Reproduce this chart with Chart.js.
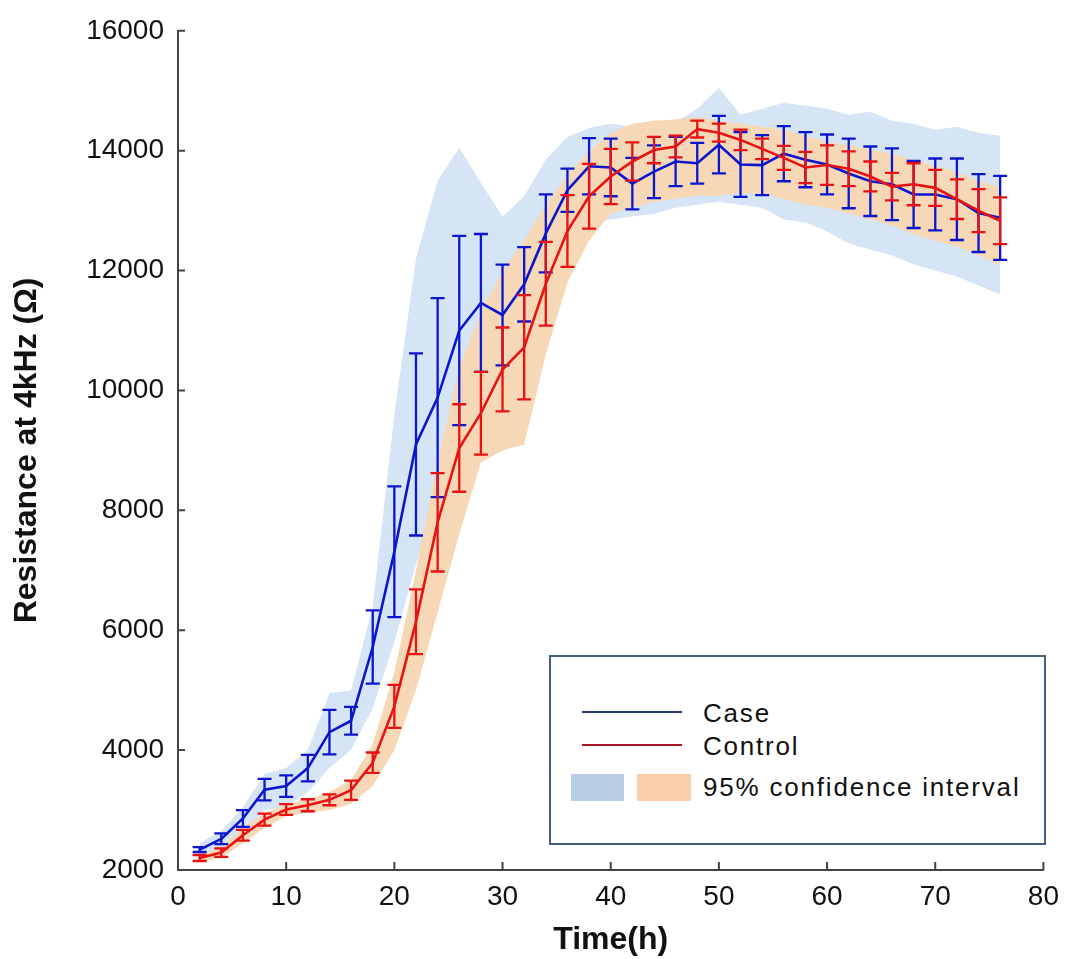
<!DOCTYPE html>
<html>
<head>
<meta charset="utf-8">
<script src="https://cdn.jsdelivr.net/npm/chart.js@4.4.1/dist/chart.umd.min.js"></script>
<style>
  html, body { margin: 0; padding: 0; background: #ffffff; }
  #wrap { position: relative; width: 1069px; height: 959px; }
  #legend {
    position: absolute; left: 549px; top: 655px; width: 493px; height: 186px;
    border: 2px solid #44607e; background: #ffffff; box-sizing: content-box;
    font-family: "Liberation Sans", Arial, sans-serif; font-size: 26px; color: #111;
    letter-spacing: 1.8px;
  }
  .lg-line { position: absolute; height: 2px; }
  .lg-sw { position: absolute; }
  .lg-txt { position: absolute; left: 152px; line-height: 30px; white-space: nowrap; }
</style>
</head>
<body>
<div id="wrap">
  <canvas id="c" width="1069" height="959"></canvas>
  <div id="legend">
    <div class="lg-line" style="left:31px;top:54px;width:100px;background:#263a72;"></div>
    <div class="lg-txt" style="top:41px;">Case</div>
    <div class="lg-line" style="left:31px;top:87px;width:100px;background:#a8142a;"></div>
    <div class="lg-txt" style="top:74px;">Control</div>
    <div class="lg-sw" style="left:20px;top:117px;width:53px;height:27px;background:#b9cde4;"></div>
    <div class="lg-sw" style="left:86px;top:117px;width:54px;height:27px;background:#fbcda8;"></div>
    <div class="lg-txt" style="top:115px;">95% confidence interval</div>
  </div>
</div>
<script>
// ---- data ----
const hours = [2,4,6,8,10,12,14,16,18,20,22,24,26,28,30,32,34,36,38,40,42,44,46,48,50,52,54,56,58,60,62,64,66,68,70,72,74,76];

const caseMean = [2340,2520,2860,3340,3400,3700,4300,4490,5720,7310,9100,9880,11000,11460,11260,11770,12620,13340,13740,13720,13450,13650,13820,13790,14100,13770,13760,13950,13850,13770,13620,13490,13440,13270,13270,13190,12960,12880];
const caseErr  = [40,90,140,180,180,220,370,230,610,1090,1520,1660,1580,1150,840,620,650,360,470,480,430,440,410,340,480,540,500,460,460,500,580,580,600,560,600,680,650,700];

const controlMean = [2200,2290,2580,2840,3010,3080,3170,3330,3790,4730,6140,7800,9040,9620,10350,10720,11780,12660,13240,13570,13820,14010,14070,14360,14300,14180,14030,13880,13720,13760,13700,13570,13400,13440,13380,13190,13000,12830];
const controlErr  = [50,70,90,100,90,100,90,160,170,360,540,820,730,690,700,870,700,600,540,460,320,220,180,140,150,170,170,200,260,330,290,250,230,350,300,330,360,390];

const caseBandHigh = [2450,2650,3050,3600,3700,4000,4950,5000,6400,9600,12200,13500,14050,13460,12900,13240,13850,14230,14380,14450,14400,14420,14480,14700,15050,14600,14700,14800,14750,14700,14600,14650,14500,14450,14350,14400,14300,14250];
const caseBandLow  = [2220,2350,2600,3000,3050,3300,3700,4000,4700,5800,7100,8200,9300,10000,10300,10900,11800,12500,12800,12850,12900,12950,13050,13100,13150,13100,13050,12850,12800,12650,12450,12350,12250,12100,12000,11900,11750,11600];

const controlBandHigh = [2260,2380,2700,2950,3100,3180,3300,3500,4100,5300,7000,8800,10400,11300,12000,12500,13100,13600,14000,14300,14450,14500,14520,14560,14500,14450,14400,14350,14250,14150,14100,14020,13950,13850,13750,13650,13500,13400];
const controlBandLow  = [2130,2200,2450,2700,2900,2950,3000,3100,3400,4000,5000,6300,7600,8800,9000,9100,10600,11800,12500,12950,13050,13150,13200,13250,13250,13300,13280,13200,13100,13050,12950,12850,12750,12600,12500,12400,12250,12080];

const xTicks = [0,10,20,30,40,50,60,70,80];
const yTicks = [2000,4000,6000,8000,10000,12000,14000,16000];

// ---- helpers ----
const pts = arr => hours.map((h, i) => ({x: h, y: arr[i]}));
const BLUE = 'rgb(12,22,205)';
const RED = 'rgb(232,18,18)';

const barSets = {
  4: {mean: caseMean, err: caseErr, color: BLUE},
  5: {mean: controlMean, err: controlErr, color: RED}
};

const errorBars = {
  id: 'errorBars',
  afterDatasetDraw(chart, args) {
    const cfg = barSets[args.index];
    if (!cfg) return;
    const {ctx, scales: {x, y}} = chart;
    ctx.save();
    ctx.strokeStyle = cfg.color;
    ctx.lineWidth = 2.3;
    hours.forEach((h, i) => {
      const px = x.getPixelForValue(h);
      const t = y.getPixelForValue(cfg.mean[i] + cfg.err[i]);
      const b = y.getPixelForValue(cfg.mean[i] - cfg.err[i]);
      ctx.beginPath();
      ctx.moveTo(px, t); ctx.lineTo(px, b);
      ctx.moveTo(px - 7, t); ctx.lineTo(px + 7, t);
      ctx.moveTo(px - 7, b); ctx.lineTo(px + 7, b);
      ctx.stroke();
    });
    ctx.restore();
  }
};

const inwardTicks = {
  id: 'inwardTicks',
  afterDraw(chart) {
    const {ctx, scales: {x, y}, chartArea} = chart;
    ctx.save();
    ctx.strokeStyle = '#444';
    ctx.lineWidth = 2;
    ctx.beginPath();
    x.ticks.forEach(t => {
      const px = x.getPixelForValue(t.value);
      ctx.moveTo(px, chartArea.bottom); ctx.lineTo(px, chartArea.bottom - 8);
    });
    y.ticks.forEach(t => {
      const py = y.getPixelForValue(t.value);
      ctx.moveTo(chartArea.left, py); ctx.lineTo(chartArea.left + 7, py);
    });
    ctx.stroke();
    ctx.restore();
  }
};

const tickFont = {family: '"Liberation Sans", Arial, sans-serif', size: 28};
const titleFont = {family: '"Liberation Sans", Arial, sans-serif', size: 32, weight: 'bold'};

new Chart(document.getElementById('c'), {
  type: 'line',
  data: {
    datasets: [
      {data: pts(caseBandLow), borderWidth: 0, pointRadius: 0, fill: false, order: 6, borderColor: 'rgba(0,0,0,0)'},
      {data: pts(caseBandHigh), borderWidth: 0, pointRadius: 0, fill: {target: 0}, backgroundColor: 'rgb(214,229,246)', order: 5, borderColor: 'rgba(0,0,0,0)'},
      {data: pts(controlBandLow), borderWidth: 0, pointRadius: 0, fill: false, order: 4, borderColor: 'rgba(0,0,0,0)'},
      {data: pts(controlBandHigh), borderWidth: 0, pointRadius: 0, fill: {target: 2}, backgroundColor: 'rgb(246,216,182)', order: 3, borderColor: 'rgba(0,0,0,0)'},
      {data: pts(caseMean), borderColor: BLUE, borderWidth: 2.6, pointRadius: 0, fill: false, order: 2, tension: 0},
      {data: pts(controlMean), borderColor: RED, borderWidth: 2.6, pointRadius: 0, fill: false, order: 1, tension: 0}
    ]
  },
  options: {
    responsive: false,
    animation: false,
    devicePixelRatio: 1,
    layout: {padding: {top: 23, right: 19, left: 0, bottom: 0}},
    plugins: {legend: {display: false}, tooltip: {enabled: false}},
    scales: {
      x: {
        type: 'linear', min: 0, max: 80,
        afterBuildTicks: s => { s.ticks = xTicks.map(v => ({value: v})); },
        afterFit: s => { s.height = 89; },
        grid: {display: false, drawTicks: false},
        border: {display: true, color: '#444', width: 2},
        ticks: {font: tickFont, color: '#111', padding: 10, maxRotation: 0, autoSkip: false, callback: v => String(v)},
        title: {display: true, text: 'Time(h)', font: titleFont, color: '#111', padding: {top: 0, bottom: 0}}
      },
      y: {
        type: 'linear', min: 2000, max: 16000,
        afterBuildTicks: s => { s.ticks = yTicks.map(v => ({value: v})); },
        afterFit: s => { s.width = 178; },
        grid: {display: false, drawTicks: false},
        border: {display: true, color: '#444', width: 2},
        ticks: {font: tickFont, color: '#111', padding: 14, autoSkip: false, callback: v => String(v)},
        title: {display: true, text: 'Resistance at 4kHz (\u03A9)', font: titleFont, color: '#111', padding: {top: 8, bottom: 0}}
      }
    }
  },
  plugins: [errorBars, inwardTicks]
});
</script>
</body>
</html>
